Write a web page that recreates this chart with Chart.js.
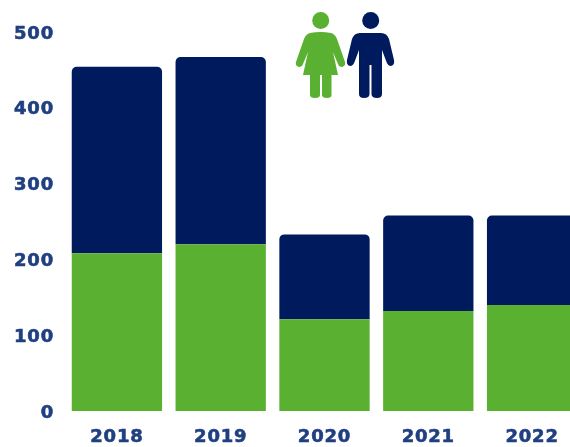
<!DOCTYPE html>
<html>
<head>
<meta charset="utf-8">
<title>Chart</title>
<script src="https://cdn.jsdelivr.net/npm/chart.js@4/dist/chart.umd.min.js"></script>
<style>
    html, body { margin: 0; padding: 0; background: #fff; width: 570px; height: 447px; overflow: hidden; }
    #wrap { position: relative; width: 570px; height: 447px; overflow: hidden; filter: blur(0.5px); }
    canvas { position: absolute; left: 0; top: 0; }
    #people { position: absolute; left: 290px; top: 0; }
</style>
</head>
<body>
<div id="wrap">
    <canvas id="chart" width="584" height="447" style="width:584px;height:447px"></canvas>
    <svg id="people" width="110" height="100" viewBox="0 0 110 100">
        <g fill="#5ab031">
            <circle cx="30.7" cy="20.5" r="8.5"/>
            <path d="M20 33 Q30.7 31 41 33 Q45 34 47 39 L55 62 Q56 66 52 67 Q49 67 48 64 L43 52 L48 75 L41.5 75 L41.5 95 Q41.5 98 37 98 Q32 98 32 95 L32 75 L30 75 L30 95 Q30 98 25 98 Q20 98 20 95 L20 75 L13 75 L18 52 L13 64 Q12 67 9 67 Q5 66 6 62 L14 39 Q16 34 20 33 Z"/>
        </g>
        <g fill="#001a5e">
            <circle cx="80.7" cy="20.5" r="8.5"/>
            <path d="M70 33 L91 33 Q97 33 99 39 L104 60 Q105 65 101 66 Q98 66 96.5 62 L92 50 L92 94 Q92 98 87 98 Q81.5 98 81.5 94 L81.5 65 L79.5 65 L79.5 94 Q79.5 98 74 98 Q69 98 69 94 L69 50 L64.5 62 Q63 66 60 66 Q56 65 57 60 L62 39 Q64 33 70 33 Z"/>
        </g>
    </svg>
</div>
<script>
const categories = ['2018', '2019', '2020', '2021', '2022'];
const greenValues = [208, 220, 121, 132, 140];
const navyValues = [246, 247, 112, 126, 118];
const yTicks = [0, 100, 200, 300, 400, 500];

const labelColor = '#1f3f80';

// labels in the picture are wider than any installed font, so space them out a bit
const wideLabels = {
    id: 'wideLabels',
    beforeDraw(chart) { chart.ctx.letterSpacing = '0.8px'; }
};

new Chart(document.getElementById('chart').getContext('2d'), {
    type: 'bar',
    data: {
        labels: categories,
        datasets: [{
            label: 'Women',
            data: greenValues,
            backgroundColor: '#5ab031',
            barPercentage: 0.87,
            categoryPercentage: 1
        }, {
            label: 'Men',
            data: navyValues,
            backgroundColor: '#001a5e',
            borderRadius: { topLeft: 5, topRight: 5, bottomLeft: 0, bottomRight: 0 },
            borderSkipped: false,
            barPercentage: 0.87,
            categoryPercentage: 1
        }]
    },
    plugins: [wideLabels],
    options: {
        responsive: false,
        animation: false,
        layout: { padding: { top: 32, right: 0, bottom: 0, left: 0 } },
        plugins: { legend: { display: false }, tooltip: { enabled: false } },
        scales: {
            x: {
                stacked: true,
                grid: { display: false, drawTicks: false },
                border: { display: false },
                ticks: {
                    color: labelColor,
                    font: { family: '"DejaVu Sans"', size: 18, weight: 'bold' },
                    textStrokeColor: labelColor,
                    textStrokeWidth: 0.6,
                    padding: 16,
                    maxRotation: 0
                },
                afterFit: scale => { scale.height = 36; }
            },
            y: {
                stacked: true,
                min: 0,
                max: 500,
                grid: { display: false, drawTicks: false },
                border: { display: false },
                afterBuildTicks: scale => { scale.ticks = yTicks.map(v => ({ value: v })); },
                ticks: {
                    color: labelColor,
                    // empty first line nudges the label down onto the reference position
                    font: { family: '"DejaVu Sans"', size: 18, weight: 'bold', lineHeight: '4px' },
                    textStrokeColor: labelColor,
                    textStrokeWidth: 0.6,
                    padding: 11,
                    callback: v => ['', String(v)]
                },
                afterFit: scale => { scale.width = 65; }
            }
        }
    }
});
</script>
</body>
</html>
